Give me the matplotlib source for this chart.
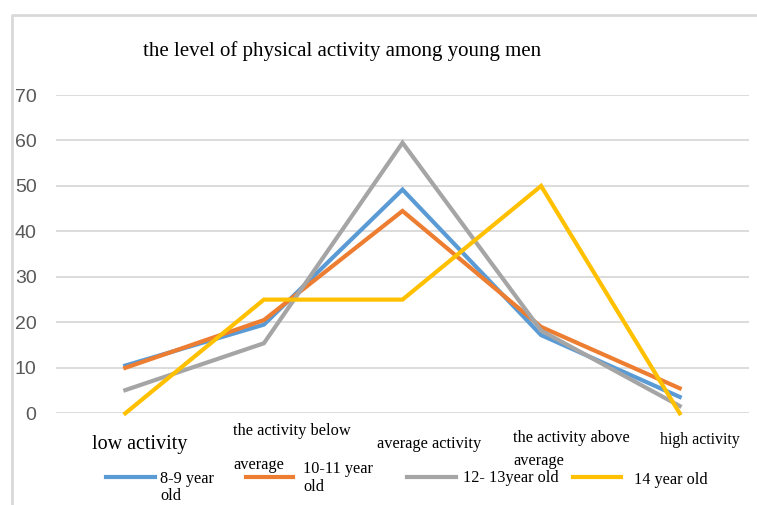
import matplotlib
matplotlib.use("Agg")
import matplotlib.pyplot as plt
from matplotlib.lines import Line2D

categories = ["low activity", "the activity below\naverage", "average activity",
              "the activity above\naverage", "high activity"]
series_names = ["8-9 year\nold", "10-11 year\nold", "12- 13year old", "14 year old"]
age_8_9 = [10.5, 19.5, 49.2, 17.2, 3.6]
age_10_11 = [10.0, 20.5, 44.5, 19.0, 5.5]
age_12_13 = [5.1, 15.4, 59.5, 18.2, 1.6]
age_14 = [0, 25, 25, 50, 0]
yticks = [0, 10, 20, 30, 40, 50, 60, 70]

colors = ["#5B9BD5", "#ED7D31", "#A5A5A5", "#FFC000"]
W, H = 757, 505

fig = plt.figure(figsize=(W / 100, H / 100), dpi=100)

def fx(px):
    return px / W

def fy(py):
    return 1 - py / H

# outer chart frame, only top and left edges are visible in the screenshot
fig.add_artist(Line2D([fx(12), fx(12), fx(800)], [fy(600), fy(15), fy(15)],
                      color="#D9D9D9", linewidth=2, transform=fig.transFigure))

ax = fig.add_axes([fx(56), fy(413.3), fx(749) - fx(56), fy(95) - fy(413.3)])

all_series = [age_8_9, age_10_11, age_12_13, age_14]
for vals, c in zip(all_series, colors):
    ax.plot(range(len(categories)), vals, color=c, linewidth=3, clip_on=False,
            solid_joinstyle="miter", zorder=3)

ax.set_xlim(-0.5, 4.5)
ax.set_ylim(0, 70)
ax.set_yticks(yticks)
ax.set_yticklabels([str(t) for t in yticks], fontfamily="Liberation Sans",
                   fontsize=14, color="#595959")
ax.set_xticks([])
ax.tick_params(axis="y", length=0, pad=14)
ax.grid(axis="y", color="#D9D9D9", linewidth=1.3)
ax.set_axisbelow(True)
for s in ax.spines.values():
    s.set_visible(False)

serif = "Liberation Serif"
fig.text(fx(342), fy(51), "the level of physical activity among young men",
         fontfamily=serif, fontsize=15, ha="center", va="center")

# category labels, each line placed like the original
cat_x = [92, 233, 377, 513, 660]
cat_y = [[444], [431, 465], [444], [438, 461], [440]]
cat_size = [14.5, 11.8, 11.8, 11.8, 11.4]
for lab, x, ys, size in zip(categories, cat_x, cat_y, cat_size):
    for line, y in zip(lab.split("\n"), ys):
        fig.text(fx(x), fy(y), line, fontfamily=serif, fontsize=size,
                 ha="left", va="center")

# legend
leg_lines = [(106, 155), (246, 293), (407, 456), (573, 621)]
leg_x = [160, 303, 463, 634]
leg_y = [[479, 496], [469, 487], [478], [480]]
for name, c, (x0, x1), tx, ys in zip(series_names, colors, leg_lines, leg_x, leg_y):
    fig.add_artist(Line2D([fx(x0), fx(x1)], [fy(477), fy(477)], color=c,
                          linewidth=3, transform=fig.transFigure))
    for line, y in zip(name.split("\n"), ys):
        fig.text(fx(tx), fy(y), line, fontfamily=serif, fontsize=11.7,
                 ha="left", va="center")

fig.savefig("out.png", dpi=100)
